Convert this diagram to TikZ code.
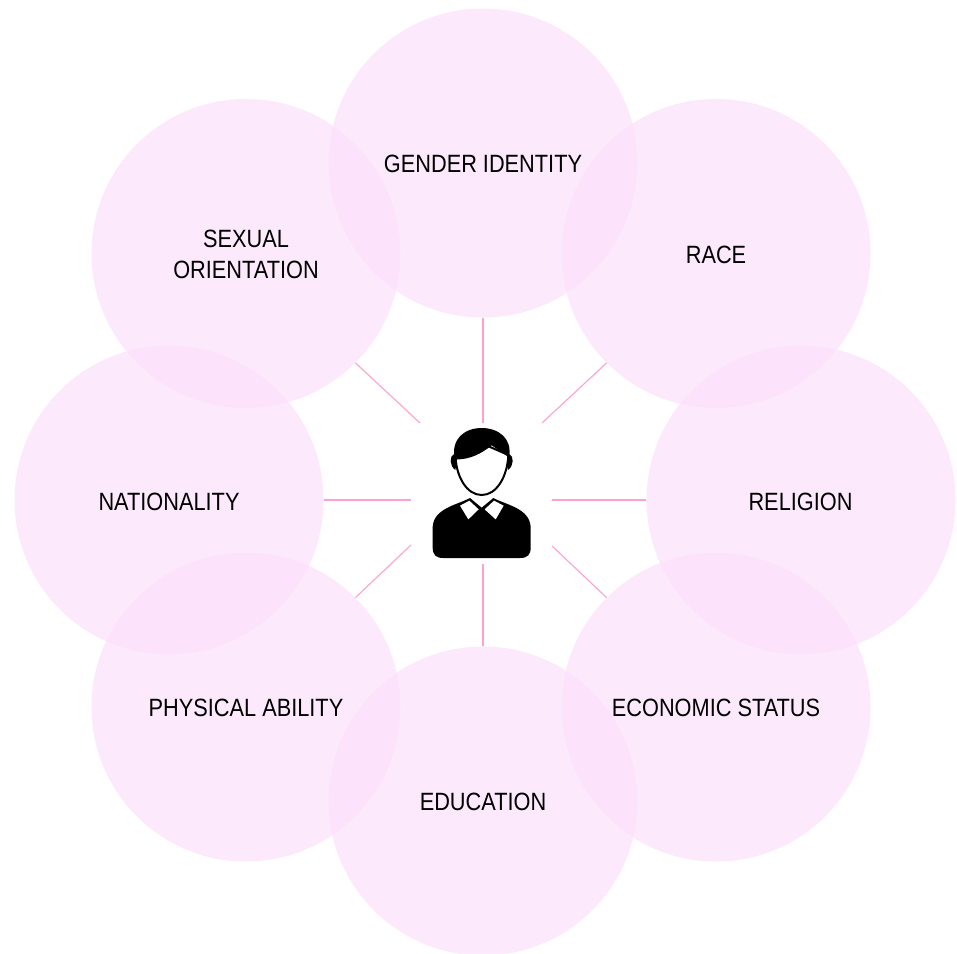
\documentclass[tikz,border=0pt]{standalone}
\usepackage{fontspec}
\setmainfont{Liberation Sans}[FakeStretch=0.87]
\definecolor{petal}{RGB}{252,224,251}
\definecolor{spoke}{RGB}{255,160,208}
\tikzset{
  x=1pt,y=1pt,
  petalnode/.style={circle,draw=none,fill=petal,fill opacity=0.67,text opacity=1,minimum size=309pt,inner sep=0pt},
  labelnode/.style={align=center,font=\fontsize{25}{31}\selectfont,text=black,inner sep=0pt},
  spokeline/.style={draw=spoke,line width=1.1pt},
  hub/.style={draw=none,minimum width=141pt,minimum height=141pt,inner sep=0pt}
}
\newcommand{\ipt}[2]{({(#1)/3},{-(#2)/3})}
\begin{document}
\begin{tikzpicture}
\useasboundingbox (0,0) rectangle (957,-953);
\fill[white] (0,0) rectangle (957,-953);
\node[petalnode] (ci) at (483,-163) {};
\node[petalnode] (ra) at (716,-253.5) {};
\node[petalnode] (re) at (801,-500) {};
\node[petalnode] (ec) at (716,-707) {};
\node[petalnode] (ed) at (483,-801) {};
\node[petalnode] (ph) at (246,-707) {};
\node[petalnode] (na) at (169,-500) {};
\node[petalnode] (se) at (246,-253.5) {};
\node[labelnode] (tci) at (483,-164) {GENDER IDENTITY};
\node[labelnode] (tra) at (716,-255) {RACE};
\node[labelnode] (tre) at (800.5,-502) {RELIGION};
\node[labelnode] (tec) at (716,-708) {ECONOMIC STATUS};
\node[labelnode] (ted) at (483,-802) {EDUCATION};
\node[labelnode] (tph) at (246,-708) {PHYSICAL ABILITY};
\node[labelnode] (tna) at (169,-502) {NATIONALITY};
\node[labelnode] (tse) at (246,-254) {SEXUAL\\ORIENTATION};
\node[hub] (hub) at (482,-493.5) {};
\coordinate (hn) at (483,-423);
\coordinate (hne) at (542,-423);
\coordinate (he) at (552,-500);
\coordinate (hse) at (552,-546);
\coordinate (hs) at (483,-564);
\coordinate (hsw) at (411,-545);
\coordinate (hw) at (411,-500);
\coordinate (hnw) at (420,-423);
\draw[spokeline] (ci.south) -- (hn);
\draw[spokeline] (ra.225) -- (hne);
\draw[spokeline] (re.west) -- (he);
\draw[spokeline] (ec.135) -- (hse);
\draw[spokeline] (ed.north) -- (hs);
\draw[spokeline] (ph.45) -- (hsw);
\draw[spokeline] (na.east) -- (hw);
\draw[spokeline] (se.-45) -- (hnw);
\begin{scope}[shift={(410,-410)}]
 % ears
 \fill[black] \ipt{132}{132} .. controls \ipt{118}{138} and \ipt{118}{168} .. \ipt{136}{180} -- \ipt{142}{150} -- cycle;
 \fill[black] \ipt{298}{132} .. controls \ipt{312}{138} and \ipt{312}{168} .. \ipt{294}{180} -- \ipt{288}{150} -- cycle;
 % face
 \draw[black,fill=white,line width=2pt] \ipt{137}{145} .. controls \ipt{140}{200} and \ipt{170}{255} .. \ipt{215}{255} .. controls \ipt{260}{255} and \ipt{292}{200} .. \ipt{295}{135} -- \ipt{215}{100} -- cycle;
 % hair
 \fill[black] \ipt{134}{148} .. controls \ipt{122}{85} and \ipt{165}{54} .. \ipt{215}{54} .. controls \ipt{265}{54} and \ipt{308}{85} .. \ipt{297}{142} -- \ipt{245}{106} .. controls \ipt{215}{130} and \ipt{180}{150} .. \ipt{134}{148} -- cycle;
 % body
 \fill[black] \ipt{180}{264} .. controls \ipt{140}{285} and \ipt{72}{295} .. \ipt{68}{350} -- \ipt{68}{412} .. controls \ipt{68}{435} and \ipt{78}{444} .. \ipt{100}{444} -- \ipt{330}{444} .. controls \ipt{352}{444} and \ipt{362}{435} .. \ipt{362}{412} -- \ipt{362}{350} .. controls \ipt{358}{295} and \ipt{290}{285} .. \ipt{250}{264} -- \ipt{215}{293} -- cycle;
 % collar
 \fill[white] \ipt{150}{287} -- \ipt{178}{272} -- \ipt{206}{298} -- \ipt{175}{328} -- cycle;
 \fill[white] \ipt{224}{298} -- \ipt{252}{272} -- \ipt{281}{287} -- \ipt{257}{328} -- cycle;
\end{scope}
\end{tikzpicture}
\end{document}
